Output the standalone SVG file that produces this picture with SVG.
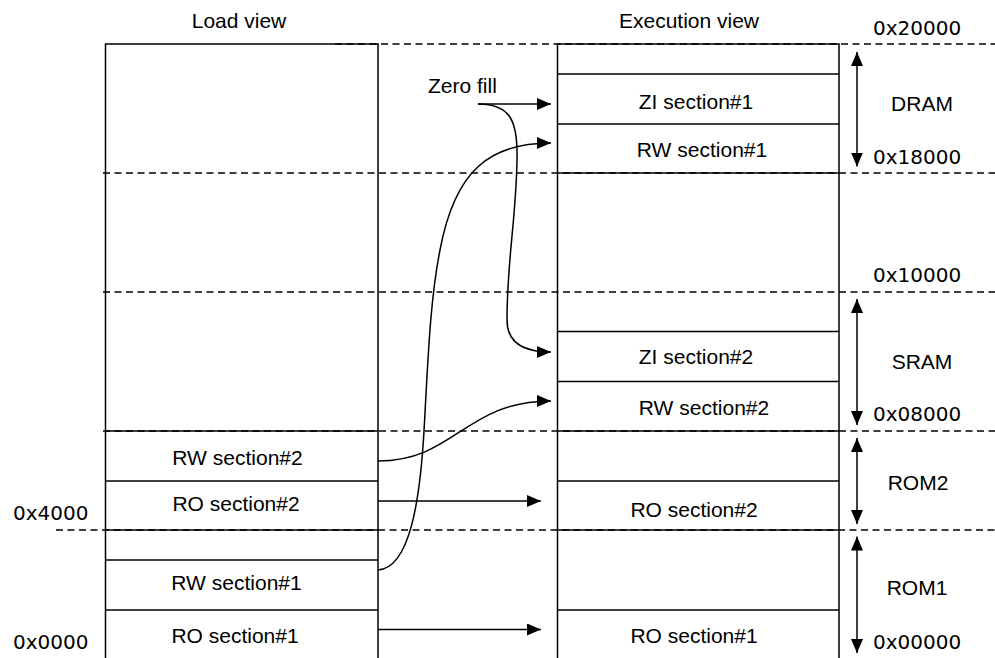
<svg xmlns="http://www.w3.org/2000/svg" width="995" height="658" viewBox="0 0 995 658">
<style>
.bx{fill:none;stroke:#000;stroke-width:1.5}
.dash{fill:none;stroke:#000;stroke-width:1.3;stroke-dasharray:7 4.5}
.con{fill:none;stroke:#000;stroke-width:1.5}
.t{font-family:"Liberation Sans",Arial,sans-serif;font-size:21px;fill:#000}
.m{text-anchor:middle}
.hx{font-family:"DejaVu Sans",Verdana,sans-serif;font-size:20px;fill:#000}
</style>
<defs>
<marker id="ah" viewBox="0 0 14 12" refX="14" refY="6" markerWidth="14" markerHeight="12" markerUnits="userSpaceOnUse" orient="auto">
<path d="M0,0 L14,6 L0,12 Z" fill="#000"/>
</marker>
<marker id="ahs" viewBox="0 0 14 12" refX="14" refY="6" markerWidth="14" markerHeight="12" markerUnits="userSpaceOnUse" orient="auto-start-reverse">
<path d="M0,0 L14,6 L0,12 Z" fill="#000"/>
</marker>
</defs>
<rect width="995" height="658" fill="#fff"/>

<g id="titles">
<text class="t m" x="239" y="28">Load view</text>
<text class="t m" x="689" y="28">Execution view</text>
</g>

<g id="dashed-lines">
<line class="dash" x1="335" y1="44" x2="995" y2="44"/>
<line class="dash" x1="103" y1="173" x2="995" y2="173"/>
<line class="dash" x1="103" y1="292" x2="995" y2="292"/>
<line class="dash" x1="103" y1="431" x2="995" y2="431"/>
<line class="dash" x1="56" y1="530" x2="995" y2="530"/>
</g>

<g id="load-view">
<path class="bx" d="M105.5,658 V44 H378 V658"/>
<line class="bx" x1="105.5" y1="431" x2="378" y2="431"/>
<line class="bx" x1="105.5" y1="481" x2="378" y2="481"/>
<line class="bx" x1="105.5" y1="530" x2="378" y2="530"/>
<line class="bx" x1="105.5" y1="560" x2="378" y2="560"/>
<line class="bx" x1="105.5" y1="610" x2="378" y2="610"/>
</g>
<g id="load-rw2"><text class="t m" x="237.5" y="465">RW section#2</text></g>
<g id="load-ro2"><text class="t m" x="236" y="511">RO section#2</text></g>
<g id="load-rw1"><text class="t m" x="236.5" y="590">RW section#1</text></g>
<g id="load-ro1"><text class="t m" x="235" y="643">RO section#1</text></g>

<g id="exec-view">
<path class="bx" d="M557.5,658 V44 H839 V658"/>
<line class="bx" x1="557.5" y1="74" x2="839" y2="74"/>
<line class="bx" x1="557.5" y1="124" x2="839" y2="124"/>
<line class="bx" x1="557.5" y1="173" x2="839" y2="173"/>
<line class="bx" x1="557.5" y1="331.5" x2="839" y2="331.5"/>
<line class="bx" x1="557.5" y1="381.5" x2="839" y2="381.5"/>
<line class="bx" x1="557.5" y1="431" x2="839" y2="431"/>
<line class="bx" x1="557.5" y1="481" x2="839" y2="481"/>
<line class="bx" x1="557.5" y1="530" x2="839" y2="530"/>
<line class="bx" x1="557.5" y1="610" x2="839" y2="610"/>
</g>
<g id="exec-zi1"><text class="t m" x="696" y="109">ZI section#1</text></g>
<g id="exec-rw1"><text class="t m" x="702" y="157">RW section#1</text></g>
<g id="exec-zi2"><text class="t m" x="696" y="364">ZI section#2</text></g>
<g id="exec-rw2"><text class="t m" x="704" y="415">RW section#2</text></g>
<g id="exec-ro2"><text class="t m" x="694" y="517">RO section#2</text></g>
<g id="exec-ro1"><text class="t m" x="694" y="643">RO section#1</text></g>

<g id="zero-fill"><text class="t" x="428" y="93">Zero fill</text></g>

<g id="connectors">
<line class="con" x1="478" y1="104" x2="551" y2="104" marker-end="url(#ah)"/>
<path class="con" d="M478,104 C510,104 518,120 517,160 C516,220 507,260 507,320 C507,342 522,352 551,352" marker-end="url(#ah)"/>
<path class="con" d="M378,570 C410,568 420,500 424,431 C428,360 430,300 440,250 C455,170 490,143 551,143" marker-end="url(#ah)"/>
<path class="con" d="M378,461 C455,461 465,401 551,401" marker-end="url(#ah)"/>
<line class="con" x1="378" y1="501" x2="541" y2="501" marker-end="url(#ah)"/>
<line class="con" x1="378" y1="629.5" x2="541" y2="629.5" marker-end="url(#ah)"/>
</g>

<g id="ranges">
<line class="con" x1="857" y1="52" x2="857" y2="166.5" marker-start="url(#ahs)" marker-end="url(#ah)"/>
<line class="con" x1="857" y1="299" x2="857" y2="425" marker-start="url(#ahs)" marker-end="url(#ah)"/>
<line class="con" x1="857" y1="438" x2="857" y2="524" marker-start="url(#ahs)" marker-end="url(#ah)"/>
<line class="con" x1="857" y1="536.5" x2="857" y2="653" marker-start="url(#ahs)" marker-end="url(#ah)"/>
</g>

<g id="labels">
<text class="t m" x="922" y="111">DRAM</text>
<text class="t m" x="922" y="369">SRAM</text>
<text class="t m" x="918" y="490">ROM2</text>
<text class="t m" x="917" y="595">ROM1</text>
<text class="hx" x="873" y="35">0x20000</text>
<text class="hx" x="873" y="164">0x18000</text>
<text class="hx" x="873" y="282">0x10000</text>
<text class="hx" x="873" y="421">0x08000</text>
<text class="hx" x="873" y="649">0x00000</text>
<text class="hx" x="13" y="520">0x4000</text>
<text class="hx" x="13" y="649">0x0000</text>
</g>
</svg>
